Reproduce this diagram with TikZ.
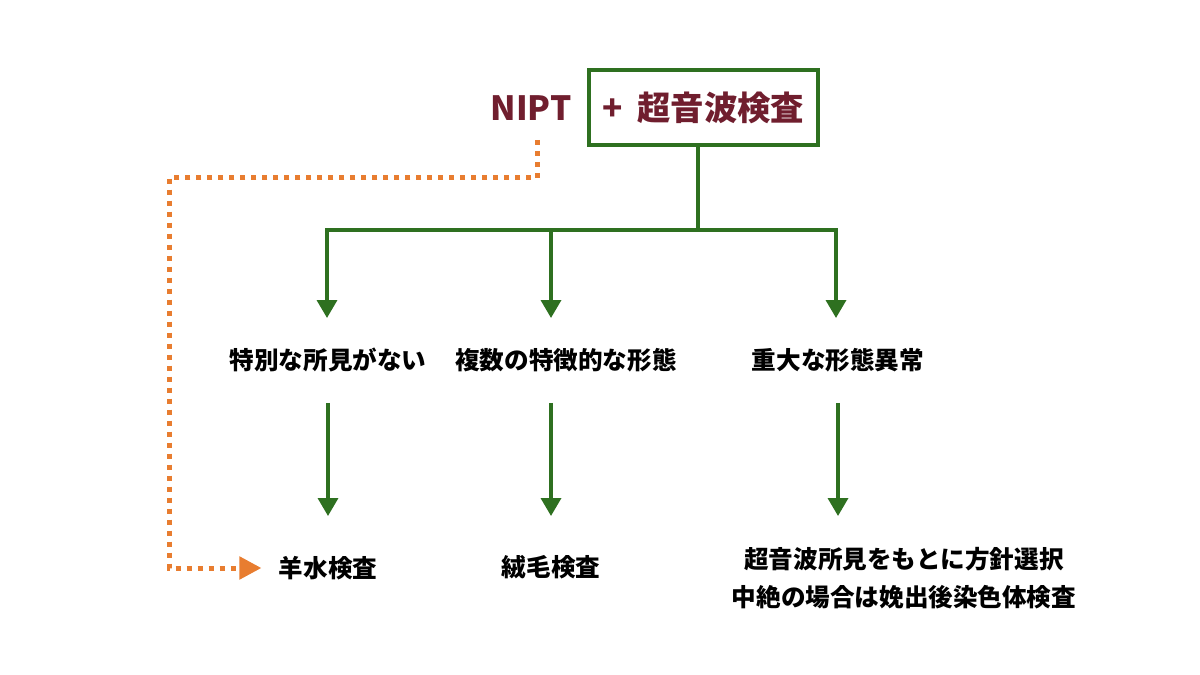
\documentclass[tikz,border=0pt]{standalone}
\usepackage{fontspec}
\setmainfont{Noto Sans CJK JP}
\usepackage{xcolor}
\usetikzlibrary{arrows.meta, positioning, calc}

\definecolor{usgreen}{RGB}{46,112,32}
\definecolor{niptred}{RGB}{112,30,46}
\definecolor{dotorange}{RGB}{232,125,48}

\tikzset{
    finding/.style={inner sep=0pt,font=\bfseries\fontsize{14}{21.6}\selectfont},
    greenline/.style={draw=usgreen,line width=0.07cm},
    greenarrow/.style={greenline,-{Triangle[length=0.36cm,width=0.4cm]}},
}

\begin{document}
\begin{tikzpicture}[x=0.02cm,y=-0.02cm]
    \useasboundingbox (0,0) rectangle (1200,675);

    % Ultrasound box and NIPT
    \node[draw=usgreen,line width=0.09cm,minimum width=4.58cm,minimum height=1.5cm,text=niptred,font=\bfseries\fontsize{19}{23}\selectfont] (us) at (703.5,107.5) {+\hspace{0.2em} 超音波検査\hspace{0.25em}};
    \node[inner sep=0pt,text=niptred,font=\bfseries\fontsize{19}{23}\selectfont] (nipt) at (531,108) {NIPT};

    % Findings
    \node[finding] (none) at (328,360) {特別な所見がない};
    \node[finding] (multi) at (566,360) {複数の特徴的な形態};
    \node[finding] (major) at (838,360) {重大な形態異常};

    % Tests
    \node[finding] (amnio) at (328,568) {羊水検査};
    \node[finding] (cvs) at (551,568) {絨毛検査};
    \node[finding,align=center] (policy) at (904,578) {超音波所見をもとに方針選択\\中絶の場合は娩出後染色体検査};

    % Branching
    \coordinate (split) at (698,230);
    \coordinate (bnone) at (327,230);
    \coordinate (bmulti) at (551,230);
    \coordinate (bmajor) at (836,230);
    \draw[greenline] (us.south -| split) -- (split);
    \draw[greenarrow,shorten >=0.84cm] (split) -| (bnone |- none);
    \draw[greenarrow,shorten >=0.84cm] (split) -| (bmajor |- major);
    \draw[greenarrow,shorten >=0.84cm] (bmulti) -- (bmulti |- multi);

    % Findings to tests
    \draw[greenarrow,shorten <=0.86cm,shorten >=1.04cm] (none.center) -- (amnio.center);
    \draw[greenarrow,shorten <=0.86cm,shorten >=1.04cm] (cvs |- multi) -- (cvs.center);
    \draw[greenarrow,shorten <=0.86cm,shorten >=1.04cm] (major.center) -- (major |- amnio);

    % NIPT route
    \coordinate (turn) at (169,178);
    \draw[dotorange,line width=0.1cm,dash pattern=on 0.1cm off 0.12cm,-{Triangle[length=0.44cm,width=0.44cm]},shorten <=0.38cm,shorten >=0.34cm] ([xshift=0.12cm]nipt.south) |- (turn) |- (amnio);
\end{tikzpicture}
\end{document}
